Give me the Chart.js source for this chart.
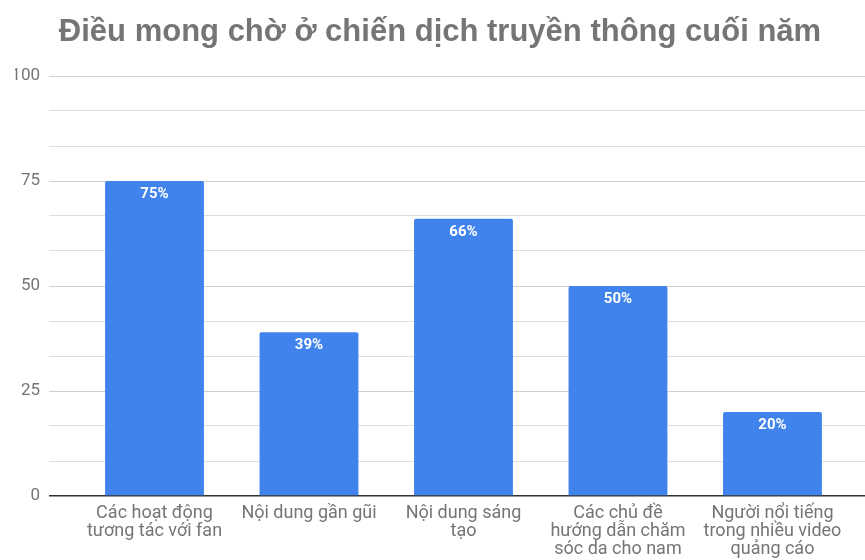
<!DOCTYPE html>
<html>
<head>
<meta charset="utf-8">
<script src="https://cdn.jsdelivr.net/npm/chart.js@4.4.1/dist/chart.umd.min.js"></script>
<style>
  html, body { margin: 0; padding: 0; background: #fff; }
  #wrap { width: 865px; height: 560px; }
</style>
</head>
<body>
<div id="wrap"><canvas id="c" width="865" height="560"></canvas></div>
<script>
// Survey: what people expect from year-end campaigns (percent of respondents)
const categories = [
  ['Các hoạt động', 'tương tác với fan'],
  ['Nội dung gần gũi'],
  ['Nội dung sáng', 'tạo'],
  ['Các chủ đề', 'hướng dẫn chăm', 'sóc da cho nam'],
  ['Người nổi tiếng', 'trong nhiều video', 'quảng cáo']
];
const values = [75, 39, 66, 50, 20];
const yTickLabels = [0, 25, 50, 75, 100];

const titleText = 'Điều mong chờ ở chiến dịch truyền thông cuối năm';
const gray = '#757575';
const barBlue = '#4083ec';

// Values printed inside the top of each bar
const valueLabels = {
  id: 'valueLabels',
  afterDatasetsDraw(chart) {
    const ctx = chart.ctx;
    const meta = chart.getDatasetMeta(0);
    ctx.save();
    ctx.font = 'bold 15px Roboto';
    ctx.fillStyle = '#ffffff';
    ctx.textAlign = 'center';
    ctx.textBaseline = 'middle';
    meta.data.forEach((bar, i) => {
      ctx.fillText(values[i] + '%', bar.x, bar.y + 13.5);
    });
    ctx.restore();
  }
};

// Minor gridlines split each 25-step into thirds
const yTicks = [];
for (let i = 0; i <= 12; i++) yTicks.push(i * 25 / 3);
const isMajor = v => yTickLabels.some(t => Math.abs(t - v) < 1e-6);

new Chart(document.getElementById('c'), {
  type: 'bar',
  data: {
    datasets: [{
      data: values.map((v, i) => ({ x: i, y: v })),
      backgroundColor: barBlue,
      borderRadius: 2,
      borderSkipped: 'bottom',
      barPercentage: 0.64,
      categoryPercentage: 1
    }]
  },
  options: {
    responsive: false,
    animation: false,
    layout: { padding: { left: 15, right: 0, top: 0, bottom: 0 } },
    plugins: {
      legend: { display: false },
      tooltip: { enabled: false },
      title: {
        display: true,
        text: titleText,
        color: gray,
        font: { family: 'Liberation Sans', size: 31, weight: 'bold', lineHeight: 1.2 },
        padding: { top: 13.5, bottom: 25.3 }
      }
    },
    scales: {
      x: {
        type: 'linear',
        min: -0.683,
        max: 4.599,
        offset: false,
        grid: { display: false, drawTicks: false },
        border: { display: false },
        afterBuildTicks(scale) {
          scale.ticks = categories.map((_, i) => ({ value: i }));
        },
        afterFit(scale) { scale.height = 64; },
        ticks: {
          autoSkip: false,
          maxRotation: 0,
          minRotation: 0,
          padding: 8,
          color: gray,
          font: { family: 'Roboto', size: 18, lineHeight: 1.0 },
          callback: v => categories[v] || ''
        }
      },
      y: {
        min: 0,
        max: 100,
        afterBuildTicks(scale) {
          scale.ticks = yTicks.map(v => ({ value: v }));
        },
        afterFit(scale) { scale.width = 34; },
        border: { display: false },
        grid: {
          drawTicks: false,
          color: ctx => {
            const v = ctx.tick ? ctx.tick.value : null;
            if (v !== null && Math.abs(v) < 1e-6) return '#333333';
            return isMajor(v) ? '#cfcfcf' : '#dedede';
          },
          lineWidth: ctx => (ctx.tick && Math.abs(ctx.tick.value) < 1e-6) ? 1.5 : 1
        },
        ticks: {
          padding: 9,
          color: gray,
          font: { family: 'Roboto', size: 17 },
          autoSkip: false,
          callback: v => isMajor(v) ? String(Math.round(v)) : ''
        }
      }
    }
  },
  plugins: [valueLabels]
});
</script>
</body>
</html>
